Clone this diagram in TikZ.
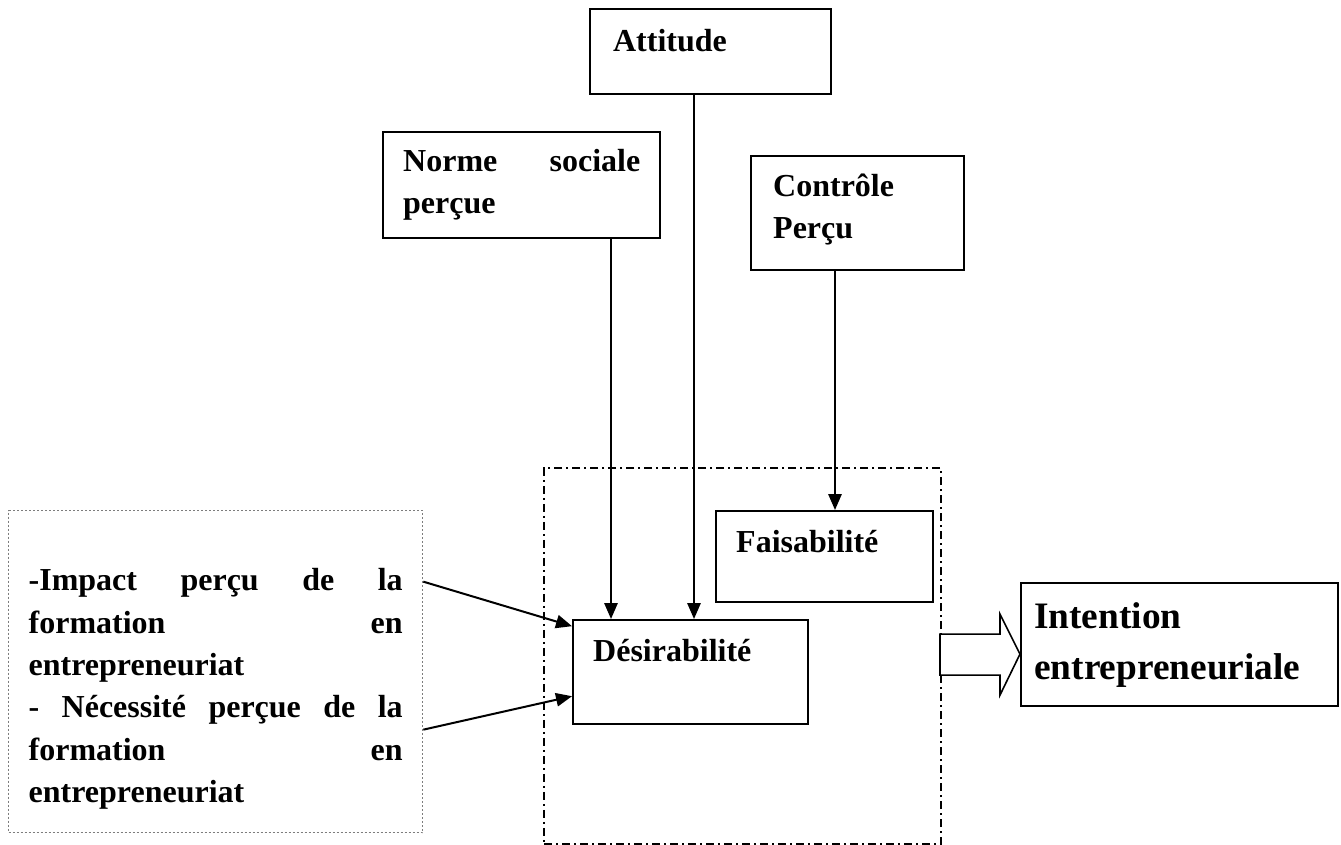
\documentclass[tikz,border=0pt]{standalone}
\usepackage{fontspec}
\setmainfont{Liberation Serif}
\usepackage{xcolor}
\usepackage{tikz}
\usetikzlibrary{arrows.meta,positioning}
\definecolor{trait}{RGB}{0,0,0}
\definecolor{pointille}{RGB}{125,125,125}
\hyphenpenalty=10000
\exhyphenpenalty=10000
\tolerance=10000

\begin{document}
\begin{tikzpicture}[x=0.375pt, y=-0.375pt,
  texte/.style={font=\fontsize{12}{15.9}\selectfont\bfseries},
  bloc/.style={texte, draw=trait, line width=0.9pt, anchor=north west, inner ysep=0pt},
  zone/.style={draw=trait, line width=0.75pt, dash pattern=on 3pt off 1.5pt on 0.75pt off 1.5pt, anchor=north west, inner sep=0pt},
  fleche/.style={draw=trait, line width=0.75pt, -{Triangle[length=6pt,width=5pt]}},
  creux/.style={draw=trait, line width=0.6pt, fill=white}]
\useasboundingbox (0,0) rectangle (1341,845);

% cadre des perceptions
\node[zone, minimum width=148.9pt, minimum height=141pt] (cadre) at (543,467) {};

\node[bloc, inner xsep=8.6pt, text width=73.1pt, text height=15.75pt, text depth=16.1pt, align=left] (attitude) at (589,8) {Attitude};
\node[bloc, inner xsep=7.5pt, text width=88.9pt, text height=14.6pt, text depth=25.1pt, align=justify] (norme) at (382,131) {Norme sociale perçue};
\node[bloc, inner xsep=8.25pt, text width=63.4pt, text height=15pt, text depth=27.75pt, align=left] (controle) at (750,155) {Contrôle\\Perçu};
\node[bloc, inner xsep=7.5pt, text width=66.4pt, text height=15.4pt, text depth=18.75pt, align=left] (faisab) at (715,510) {Faisabilité};
\node[bloc, inner xsep=7.5pt, text width=73.1pt, text height=15.4pt, text depth=23.6pt, align=left] (desir) at (572,619) {Désirabilité};
\node[bloc, draw=pointille, line width=0.5pt, dash pattern=on 0.75pt off 0.75pt, inner xsep=7.5pt, text width=140.25pt, text height=30pt, text depth=90.75pt, align=justify] (gauche) at (8,510)
  {-Impact perçu de la\linebreak formation en\linebreak entrepreneuriat\par
   - Nécessité perçue de la\linebreak formation en\linebreak entrepreneuriat};
\node[bloc, font=\fontsize{14}{19.1}\selectfont\bfseries, inner xsep=4.9pt, text width=109.1pt, text height=16.9pt, text depth=29.25pt, align=left] (intention) at (1020,582) {Intention\\entrepreneuriale};

\coordinate (xn) at (611,0);
\coordinate (xa) at (694,0);
\coordinate (xc) at (835,0);
\draw[fleche] (norme.south -| xn) -- (desir.north -| xn);
\draw[fleche] (attitude.south -| xa) -- (desir.north -| xa);
\draw[fleche] (controle.south -| xc) -- (faisab.north -| xc);
\draw[fleche] ([yshift=33.75pt]gauche.east) -- ([yshift=17.25pt]desir.west);
\draw[fleche] ([yshift=-21.75pt]gauche.east) -- ([yshift=-9pt]desir.west);

% grosse fleche vers l'intention
\coordinate (pointe) at ([yshift=-3.5pt]intention.west);
\draw[creux] (pointe) -- ++(-20,-40) -- ++(0,20) -- ++(-60,0) -- ++(0,41) -- ++(60,0) -- ++(0,20) -- cycle;
\end{tikzpicture}
\end{document}
